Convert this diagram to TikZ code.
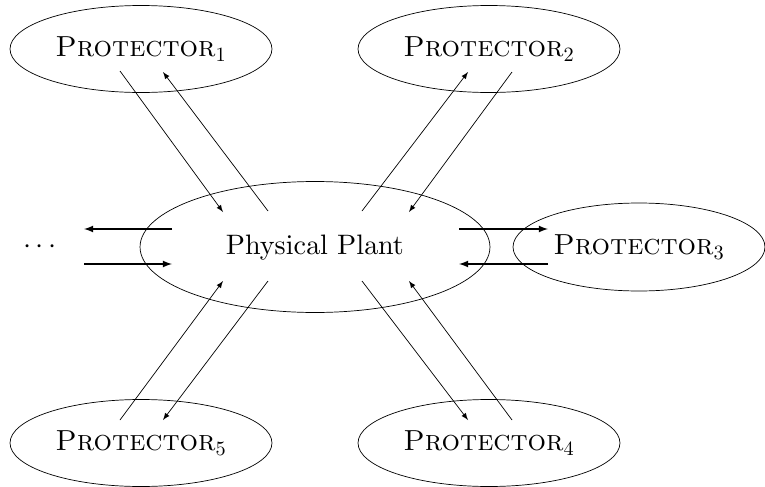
\RequirePackage{fix-cm}
\documentclass[tikz,border=0pt]{standalone}
\usetikzlibrary{shapes.geometric}
\font\plantfont=cmr10 at 16pt
\tikzset{
  prot/.style={draw,ellipse,minimum width=5.24cm,minimum height=1.74cm,inner sep=0pt},
  thin arrow/.style={->,thin},
  thick arrow/.style={->,line width=0.8pt}
}
\newcommand{\prot}[1]{\textsc{Protector}$_{#1}$}
\begin{document}
\begin{tikzpicture}[line join=round,>=latex,font=\fontsize{16.5}{19}\selectfont,x=0.02cm,y=-0.02cm]
  \useasboundingbox (0,0) rectangle (765,487);
  \node [draw,ellipse,minimum width=7cm,minimum height=2.62cm,inner sep=0pt] (P) at (315,247) {\plantfont Physical Plant};
  \node [prot] (P1) at (141,49) {\prot1};
  \node [prot] (P2) at (489,49) {\prot2};
  \node [prot,minimum width=5.04cm,minimum height=1.76cm] (P3) at (639,247) {\prot3};
  \node [prot] (P4) at (489,443) {\prot4};
  \node [prot] (P5) at (141,443) {\prot5};
  \node (D) at (40,247) {$\cdots$};
  % ends of the arrows
  \coordinate (a1) at (120,71);  \coordinate (b1) at (223,212);
  \coordinate (c1) at (163,72);  \coordinate (d1) at (268,211);
  \coordinate (a2) at (512,72);  \coordinate (b2) at (409,212);
  \coordinate (c2) at (468,72);  \coordinate (d2) at (362,211);
  \coordinate (a4) at (512,420); \coordinate (b4) at (409,281);
  \coordinate (c4) at (468,420); \coordinate (d4) at (362,281);
  \coordinate (a5) at (120,420); \coordinate (b5) at (223,281);
  \coordinate (c5) at (163,420); \coordinate (d5) at (268,281);
  \coordinate (l1) at (172,229); \coordinate (l2) at (84,229);
  \coordinate (l3) at (84,264);  \coordinate (l4) at (172,264);
  \coordinate (r1) at (459,229); \coordinate (r2) at (548,229);
  \coordinate (r3) at (548,264); \coordinate (r4) at (459,264);
  \draw [thin arrow] (a1)--(b1);
  \draw [thin arrow] (d1)--(c1);
  \draw [thin arrow] (a2)--(b2);
  \draw [thin arrow] (d2)--(c2);
  \draw [thin arrow] (a4)--(b4);
  \draw [thin arrow] (d4)--(c4);
  \draw [thin arrow] (a5)--(b5);
  \draw [thin arrow] (d5)--(c5);
  \draw [thick arrow] (l1)--(l2);
  \draw [thick arrow] (l3)--(l4);
  \draw [thick arrow] (r1)--(r2);
  \draw [thick arrow] (r3)--(r4);
\end{tikzpicture}
\end{document}
